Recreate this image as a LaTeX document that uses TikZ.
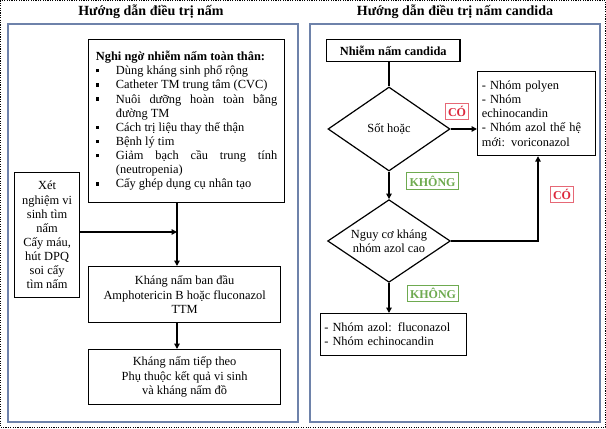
\documentclass[tikz,border=0pt]{standalone}
\usepackage{fontspec}
\setmainfont{Liberation Serif}
\usetikzlibrary{shapes.geometric,arrows.meta}
\definecolor{panel}{RGB}{110,130,170}
\definecolor{cored}{RGB}{220,40,60}
\definecolor{khg}{RGB}{110,170,80}
\newcommand{\itm}[1]{\par\noindent\hangindent=15pt\hangafter=1\makebox[15pt][l]{\raisebox{1.8pt}{\rule{2.6pt}{2.6pt}}}#1}
\begin{document}
\begin{tikzpicture}[x=0.75pt,y=-0.75pt,
  every node/.style={font=\fontsize{9.3}{10.6}\selectfont},
  box/.style={draw,line width=0.9pt,align=center,inner sep=2pt},
  arr/.style={line width=1pt,-{Triangle[length=4pt,width=4pt]}},
  ln/.style={line width=1pt},
  pan/.style={draw=panel,line width=0.8pt},
  lab/.style={draw,line width=0.7pt,font=\fontsize{9}{10}\selectfont\bfseries,minimum height=12.5pt,inner sep=2pt},
  dia/.style={draw,line width=0.9pt,diamond,aspect=1.45,inner sep=0pt,align=center}]
\useasboundingbox (0,0) rectangle (606,428);
\draw[densely dotted,line width=0.8pt] (0.5,0.5) rectangle (605.5,427.5);
\draw[pan] (8,24) rectangle (298,422);
\draw[pan] (310,24) rectangle (600,422);
\node[font=\fontsize{10.5}{12}\selectfont\bfseries] (t1) at (151,12) {Hướng dẫn điều trị nấm};
\node[font=\fontsize{10.5}{12}\selectfont\bfseries] (t2) at (455,12) {Hướng dẫn điều trị nấm candida};
% left
\node[box,anchor=north west,minimum width=147pt,minimum height=122pt,inner sep=5pt,align=justify] (b1) at (88,39)
 {\parbox[t]{136pt}{\fontsize{9.3}{10.6}\selectfont\hyphenpenalty=10000\noindent\textbf{Nghi ngờ nhiễm nấm toàn thân:}
 \itm{Dùng kháng sinh phổ rộng}
 \itm{Catheter TM trung tâm (CVC)}
 \itm{Nuôi dưỡng hoàn toàn bằng\linebreak đường TM}
 \itm{Cách trị liệu thay thế thận}
 \itm{Bệnh lý tim}
 \itm{Giảm bạch cầu trung tính\linebreak (neutropenia)}
 \itm{Cấy ghép dụng cụ nhân tạo}}};
\node[box,anchor=north west,minimum width=48.75pt,minimum height=93.75pt] (xn) at (14,172)
 {Xét\\nghiệm vi\\sinh tìm\\nấm\\Cấy máu,\\hút DPQ\\soi cấy\\tìm nấm};
\node[box,anchor=north west,minimum width=144pt,minimum height=42pt] (k1) at (88,266)
 {Kháng nấm ban đầu\\Amphotericin B hoặc fluconazol\\TTM};
\node[box,anchor=north west,minimum width=144pt,minimum height=41pt] (k2) at (88,349)
 {Kháng nấm tiếp theo\\Phụ thuộc kết quả vi sinh\\và kháng nấm đồ};
\coordinate (j) at (177,232);
\draw[arr] (b1.south -| j) -- (k1.north -| j);
\draw[arr] (xn.east |- j) -- (j);
\draw[arr] (k1.south -| j) -- (k2.north -| j);
% right
\node[box,anchor=north west,minimum width=100pt,minimum height=16.5pt,font=\fontsize{9.3}{10}\selectfont\bfseries] (nc) at (326,39) {Nhiễm nấm candida};
\node[dia,minimum width=91.5pt,minimum height=63pt] (d1) at (389,129) {Sốt hoặc};
\node[dia,minimum width=92pt,minimum height=62pt] (d2) at (389,241) {Nguy cơ kháng\\nhóm azol cao};
\node[box,anchor=north west,minimum width=88.5pt,minimum height=63pt,align=left,text width=82pt] (p) at (477,71)
 {- Nhóm polyen\\- Nhóm\\echinocandin\\- Nhóm azol thế hệ mới: voriconazol};
\node[box,anchor=north west,minimum width=109.5pt,minimum height=31.5pt,align=left,text width=104pt] (az) at (320,313)
 {- Nhóm azol: fluconazol\\- Nhóm echinocandin};
\draw[ln] (nc.south -| d1) -- (d1.north);
\draw[arr] (d1.east) -- (d1.east -| p.west);
\draw[arr] (d1.south) -- (d2.north);
\coordinate (c2) at (538,241);
\draw[arr] (d2.east) -- (c2) -- (c2 |- p.south);
\draw[arr] (d2.south) -- (d2.south |- az.north);
\node[lab,text=cored,draw=cored!70] (co1) at (457,111.5) {CÓ};
\node[lab,text=khg,draw=khg] (kh1) at (432.5,181) {KHÔNG};
\node[lab,text=cored,draw=cored!70] (co2) at (562,194.5) {CÓ};
\node[lab,text=khg,draw=khg] (kh2) at (433,293.5) {KHÔNG};
\end{tikzpicture}
\end{document}
